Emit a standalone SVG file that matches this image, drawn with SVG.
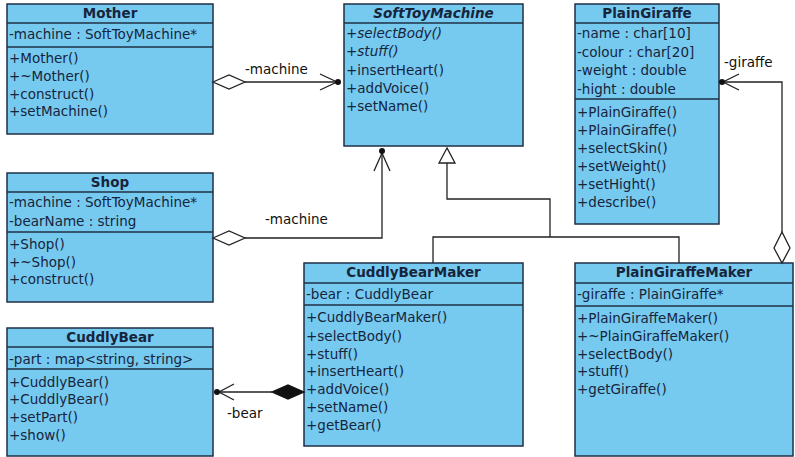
<svg xmlns="http://www.w3.org/2000/svg" width="795" height="457" viewBox="0 0 795 457">
  <defs>
    <style>
      .box { fill: #76C9EF; stroke: #1F2F45; stroke-width: 1.5; }
      .div { stroke: #1F2F45; stroke-width: 1.3; fill: none; }
      .t { font-family: "DejaVu Sans", "Liberation Sans", sans-serif; font-size: 13.5px; fill: #16253C; }
      .h { font-family: "DejaVu Sans", "Liberation Sans", sans-serif; font-size: 13.5px; font-weight: bold; fill: #16253C; text-anchor: middle; }
      .i { font-style: italic; }
      .c { stroke: #222; stroke-width: 1.3; fill: none; }
      .hollow { stroke: #222; stroke-width: 1.3; fill: #fff; }
      .solid { stroke: #111; stroke-width: 1.3; fill: #111; }
      .lbl { font-family: "DejaVu Sans", "Liberation Sans", sans-serif; font-size: 13.5px; fill: #111; }
    </style>
  </defs>

  <rect width="795" height="457" fill="#fff"/>

  <!-- classes -->
  <g id="Mother">
    <rect class="box" x="7" y="4" width="206" height="130"/>
    <line class="div" x1="7" y1="23" x2="213" y2="23"/>
    <line class="div" x1="7" y1="47" x2="213" y2="47"/>
    <text class="h" x="110" y="18">Mother</text>
    <text class="t" x="9" y="39">-machine : SoftToyMachine*</text>
    <text class="t" x="9" y="63">+Mother()</text>
    <text class="t" x="9" y="81">+~Mother()</text>
    <text class="t" x="9" y="99">+construct()</text>
    <text class="t" x="9" y="116">+setMachine()</text>
  </g>

  <g id="SoftToyMachine">
    <rect class="box" x="344" y="4" width="179" height="142"/>
    <line class="div" x1="344" y1="23" x2="523" y2="23"/>
    <text class="h i" x="433.5" y="18">SoftToyMachine</text>
    <text class="t i" x="346" y="38">+selectBody()</text>
    <text class="t i" x="346" y="56">+stuff()</text>
    <text class="t" x="346" y="75">+insertHeart()</text>
    <text class="t" x="346" y="93">+addVoice()</text>
    <text class="t" x="346" y="111">+setName()</text>
  </g>

  <g id="PlainGiraffe">
    <rect class="box" x="575" y="4" width="144" height="220"/>
    <line class="div" x1="575" y1="23" x2="719" y2="23"/>
    <line class="div" x1="575" y1="99" x2="719" y2="99"/>
    <text class="h" x="647" y="18">PlainGiraffe</text>
    <text class="t" x="577" y="38">-name : char[10]</text>
    <text class="t" x="577" y="57">-colour : char[20]</text>
    <text class="t" x="577" y="75">-weight : double</text>
    <text class="t" x="577" y="94">-hight : double</text>
    <text class="t" x="577" y="117">+PlainGiraffe()</text>
    <text class="t" x="577" y="135">+PlainGiraffe()</text>
    <text class="t" x="577" y="153">+selectSkin()</text>
    <text class="t" x="577" y="171">+setWeight()</text>
    <text class="t" x="577" y="189">+setHight()</text>
    <text class="t" x="577" y="207">+describe()</text>
  </g>

  <g id="Shop">
    <rect class="box" x="7" y="173" width="206" height="129"/>
    <line class="div" x1="7" y1="192" x2="213" y2="192"/>
    <line class="div" x1="7" y1="232" x2="213" y2="232"/>
    <text class="h" x="110" y="187">Shop</text>
    <text class="t" x="9" y="207">-machine : SoftToyMachine*</text>
    <text class="t" x="9" y="226">-bearName : string</text>
    <text class="t" x="9" y="249">+Shop()</text>
    <text class="t" x="9" y="267">+~Shop()</text>
    <text class="t" x="9" y="284">+construct()</text>
  </g>

  <g id="CuddlyBear">
    <rect class="box" x="7" y="328" width="206" height="128"/>
    <line class="div" x1="7" y1="347" x2="213" y2="347"/>
    <line class="div" x1="7" y1="369" x2="213" y2="369"/>
    <text class="h" x="110" y="342">CuddlyBear</text>
    <text class="t" x="9" y="364">-part : map&lt;string, string&gt;</text>
    <text class="t" x="9" y="387">+CuddlyBear()</text>
    <text class="t" x="9" y="404">+CuddlyBear()</text>
    <text class="t" x="9" y="422">+setPart()</text>
    <text class="t" x="9" y="440">+show()</text>
  </g>

  <g id="CuddlyBearMaker">
    <rect class="box" x="304" y="263" width="219" height="183"/>
    <line class="div" x1="304" y1="283" x2="523" y2="283"/>
    <line class="div" x1="304" y1="305" x2="523" y2="305"/>
    <text class="h" x="413.5" y="277">CuddlyBearMaker</text>
    <text class="t" x="306" y="299">-bear : CuddlyBear</text>
    <text class="t" x="306" y="322">+CuddlyBearMaker()</text>
    <text class="t" x="306" y="341">+selectBody()</text>
    <text class="t" x="306" y="359">+stuff()</text>
    <text class="t" x="306" y="376">+insertHeart()</text>
    <text class="t" x="306" y="394">+addVoice()</text>
    <text class="t" x="306" y="412">+setName()</text>
    <text class="t" x="306" y="430">+getBear()</text>
  </g>

  <g id="PlainGiraffeMaker">
    <rect class="box" x="575" y="263" width="218" height="193"/>
    <line class="div" x1="575" y1="283" x2="793" y2="283"/>
    <line class="div" x1="575" y1="306" x2="793" y2="306"/>
    <text class="h" x="684" y="277">PlainGiraffeMaker</text>
    <text class="t" x="577" y="299">-giraffe : PlainGiraffe*</text>
    <text class="t" x="577" y="323">+PlainGiraffeMaker()</text>
    <text class="t" x="577" y="341">+~PlainGiraffeMaker()</text>
    <text class="t" x="577" y="359">+selectBody()</text>
    <text class="t" x="577" y="376">+stuff()</text>
    <text class="t" x="577" y="394">+getGiraffe()</text>
  </g>

  <!-- connectors -->
  <g id="connectors">
    <!-- Mother aggregates SoftToyMachine -->
    <polyline class="c" points="245,82 337,82"/>
    <polygon class="hollow" points="213,82 229,75 245,82 229,89"/>
    <polyline class="c" points="320,74 337,82 320,90"/>
    <circle cx="338" cy="82" r="3" fill="#111"/>
    <text class="lbl" x="245" y="74">-machine</text>

    <!-- Shop aggregates SoftToyMachine -->
    <polyline class="c" points="245,238 382,238 382,152"/>
    <polygon class="hollow" points="213,238 229,231 245,238 229,245"/>
    <polyline class="c" points="374,171 382,153 390,171"/>
    <circle cx="382" cy="151" r="3" fill="#111"/>
    <text class="lbl" x="265" y="224">-machine</text>

    <!-- makers generalize SoftToyMachine -->
    <polyline class="c" points="447,163 447,199 550,199 550,237"/>
    <polyline class="c" points="433,263 433,237 679,237 679,263"/>
    <polygon class="hollow" points="447,148 439,163 455,163"/>

    <!-- PlainGiraffeMaker aggregates PlainGiraffe -->
    <polyline class="c" points="782,232 782,82 723,82"/>
    <polygon class="hollow" points="782,263 774,248 782,232 790,248"/>
    <polyline class="c" points="739,74 723,82 739,90"/>
    <circle cx="722" cy="82" r="3" fill="#111"/>
    <text class="lbl" x="724" y="67">-giraffe</text>

    <!-- CuddlyBearMaker composes CuddlyBear -->
    <polyline class="c" points="272,392 219,392"/>
    <polygon class="solid" points="304,392 288,385 272,392 288,399"/>
    <polyline class="c" points="234,384 219,392 234,400"/>
    <circle cx="217" cy="392" r="3" fill="#111"/>
    <text class="lbl" x="227" y="418">-bear</text>
  </g>
</svg>
